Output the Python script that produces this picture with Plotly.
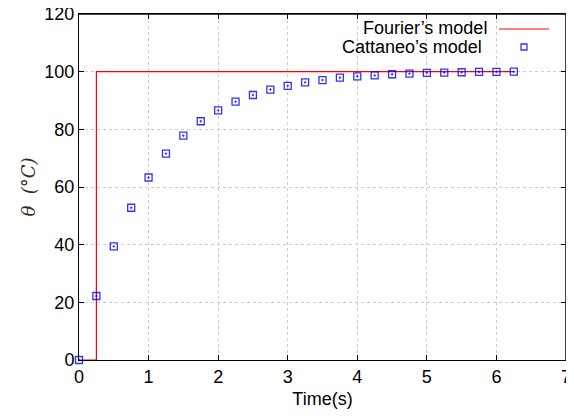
import plotly.graph_objects as go

# Data
fourier_t = [0.0, 0.25, 0.25, 6.25]
fourier_theta = [0, 0, 100, 100]

cattaneo_t = [0.0, 0.25, 0.5, 0.75, 1.0, 1.25, 1.5, 1.75, 2.0, 2.25, 2.5, 2.75,
              3.0, 3.25, 3.5, 3.75, 4.0, 4.25, 4.5, 4.75, 5.0, 5.25, 5.5, 5.75,
              6.0, 6.25]
cattaneo_theta = [0.0, 22.2, 39.4, 52.8, 63.3, 71.6, 77.8, 82.8, 86.6, 89.6, 91.9, 93.8,
                  95.1, 96.3, 97.1, 97.9, 98.4, 98.7, 99.1, 99.3, 99.6, 99.7, 99.8, 99.9,
                  99.95, 100.0]

x_ticks = [0, 1, 2, 3, 4, 5, 6, 7]
y_ticks = [0, 20, 40, 60, 80, 100, 120]

FONT = "Liberation Sans, Arial, sans-serif"

fig = go.Figure()
fig.add_trace(go.Scatter(x=fourier_t, y=fourier_theta, mode="lines",
                         line=dict(color="#ff0000", width=1.2),
                         name="Fourier’s model", showlegend=False, cliponaxis=False))
fig.add_trace(go.Scatter(x=cattaneo_t, y=cattaneo_theta, mode="markers",
                         marker=dict(symbol="square-open-dot", size=7, color="#0000ff",
                                     line=dict(width=1.3, color="#0000ff")),
                         opacity=0.8,
                         name="Cattaneo’s model", showlegend=False, cliponaxis=False))

axis_common = dict(showline=True, linecolor="black", linewidth=1, mirror="allticks",
                   ticks="inside", ticklen=5, tickcolor="black", tickwidth=1,
                   showgrid=True, gridcolor="#cccccc", griddash="dot", gridwidth=1,
                   zeroline=False, automargin=False, ticklabeloverflow="allow",
                   tickfont=dict(family=FONT, size=18, color="black"))

fig.update_xaxes(range=[0, 7], tickvals=x_ticks, ticktext=[str(v) for v in x_ticks],
                 title=dict(text="Time(s)", font=dict(family=FONT, size=18, color="black"),
                            standoff=6),
                 **axis_common)
fig.update_yaxes(range=[0, 120], tickvals=y_ticks, ticktext=[str(v) for v in y_ticks],
                 title=dict(text="<i>θ</i>  <i>(°C)</i>",
                            font=dict(family="DejaVu Serif, serif", size=18, color="#3a2a20"),
                            standoff=4),
                 **axis_common)

# plot frame (top and right sides), referenced to the axis domains
fig.add_shape(type="line", xref="x domain", yref="y domain", x0=0, x1=1, y0=1, y1=1,
              line=dict(color="black", width=1.5), layer="above")
fig.add_shape(type="line", xref="x domain", yref="y domain", x0=1, x1=1, y0=0, y1=1,
              line=dict(color="black", width=1.5), layer="above")

# Legend drawn in gnuplot style (text right-aligned, key sample to the right)
PW = 487.0
fig.add_annotation(xref="paper", yref="paper", x=(489 - 79) / PW, y=(360 - 28) / 346,
                   text="Fourier’s model", showarrow=False, xanchor="right", yanchor="middle",
                   font=dict(family=FONT, size=18, color="black"))
fig.add_annotation(xref="paper", yref="paper", x=(484 - 79) / PW, y=(360 - 47) / 346,
                   text="Cattaneo’s model", showarrow=False, xanchor="right", yanchor="middle",
                   font=dict(family=FONT, size=18, color="black"))
fig.add_shape(type="line", xref="paper", yref="paper",
              x0=(499 - 79) / PW, x1=(549 - 79) / PW,
              y0=(360 - 29) / 346, y1=(360 - 29) / 346,
              line=dict(color="#ff0000", width=1.2))
fig.add_shape(type="rect", xref="paper", yref="paper",
              x0=(521 - 79) / PW, x1=(527 - 79) / PW,
              y0=(360 - 50) / 346, y1=(360 - 44) / 346,
              line=dict(color="rgba(0,0,255,0.8)", width=1.3))

# the page body adds an 8px margin on every side; keep the figure inside the window
fig.update_layout(width=558, height=404, margin=dict(l=71, r=0, t=6, b=52),
                  plot_bgcolor="white", paper_bgcolor="white", showlegend=False)

fig.write_html("out.html")
